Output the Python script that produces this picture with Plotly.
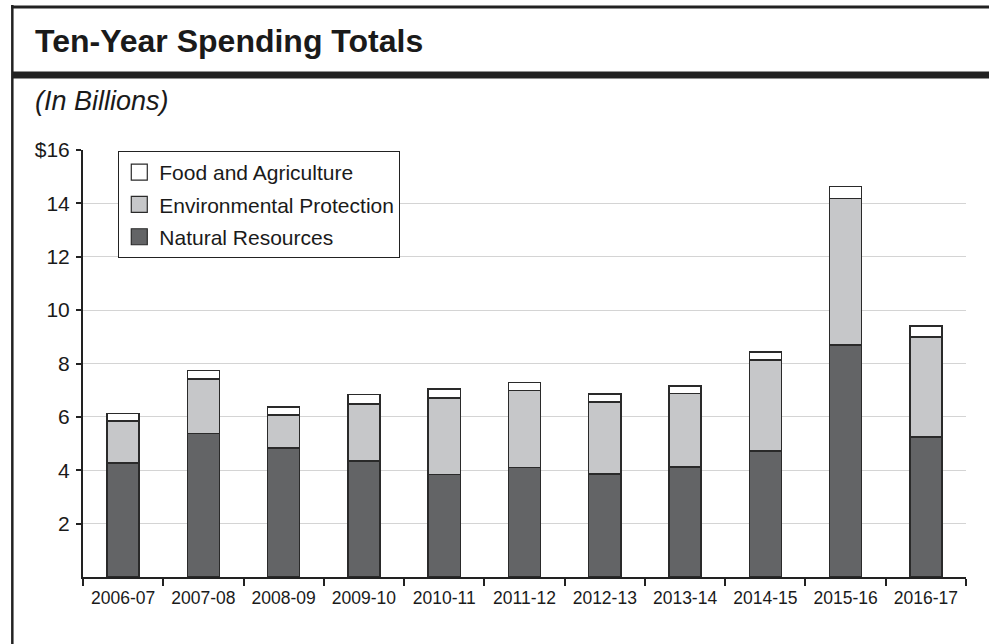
import plotly.graph_objects as go

years = ["2006-07", "2007-08", "2008-09", "2009-10", "2010-11", "2011-12",
         "2012-13", "2013-14", "2014-15", "2015-16", "2016-17"]
natural_resources = [4.28, 5.37, 4.84, 4.34, 3.85, 4.11, 3.86, 4.12, 4.73, 8.69, 5.25]
environmental_protection = [1.56, 2.05, 1.23, 2.15, 2.85, 2.88, 2.69, 2.75, 3.40, 5.49, 3.74]
food_agriculture = [0.28, 0.31, 0.30, 0.34, 0.35, 0.30, 0.30, 0.29, 0.30, 0.45, 0.42]
y_tickvals = [2, 4, 6, 8, 10, 12, 14, 16]
y_ticktext = ["2", "4", "6", "8", "10", "12", "14", "$16"]

W, H = 989, 644
ML, MR, MT, MB = 82.7, 23, 150, 67
PW, PH = W - ML - MR, H - MT - MB

def px_x(p):
    return (p - ML) / PW

def px_y(p):
    return (H - MB - p) / PH

FONT = "Liberation Sans, Arial, Helvetica, sans-serif"
OUTLINE = dict(color="#2a2a2a", width=1.5)
C_NR, C_EP, C_FA = "#636466", "#c6c7c9", "#ffffff"

fig = go.Figure()
fig.add_trace(go.Bar(x=years, y=natural_resources, name="Natural Resources",
                     marker=dict(color=C_NR, line=OUTLINE), width=0.4, showlegend=False))
fig.add_trace(go.Bar(x=years, y=environmental_protection, name="Environmental Protection",
                     marker=dict(color=C_EP, line=OUTLINE), width=0.4, showlegend=False))
fig.add_trace(go.Bar(x=years, y=food_agriculture, name="Food and Agriculture",
                     marker=dict(color=C_FA, line=OUTLINE), width=0.4, showlegend=False))

# legend-only entries with larger square swatches
for i, (nm, col) in enumerate([("Food and Agriculture", C_FA),
                               ("Environmental Protection", C_EP),
                               ("Natural Resources", C_NR)]):
    fig.add_trace(go.Scatter(x=[None], y=[None], mode="markers", name=nm,
                             legendgroup="g%d" % i,
                             marker=dict(symbol="square", size=16, color=col,
                                         line=dict(color="#2a2a2a", width=1.2))))

shapes = [
    dict(type="line", xref="paper", yref="paper", x0=px_x(12), x1=px_x(12),
         y0=px_y(5), y1=px_y(H + 5), line=dict(color="#222", width=2.5)),
    dict(type="line", xref="paper", yref="paper", x0=px_x(10.8), x1=px_x(W + 5),
         y0=px_y(7), y1=px_y(7), line=dict(color="#222", width=3)),
    dict(type="line", xref="paper", yref="paper", x0=px_x(12), x1=px_x(W + 5),
         y0=px_y(75), y1=px_y(75), line=dict(color="#222", width=7)),
]

annotations = [
    dict(text="<b>Ten-Year Spending Totals</b>", xref="paper", yref="paper",
         x=px_x(33), y=px_y(41), xanchor="left", yanchor="middle", showarrow=False,
         font=dict(family=FONT, size=32, color="#1a1a1a")),
    dict(text="<i>(In Billions)</i>", xref="paper", yref="paper",
         x=px_x(33), y=px_y(101), xanchor="left", yanchor="middle", showarrow=False,
         font=dict(family=FONT, size=27, color="#1a1a1a")),
]

fig.update_layout(
    width=W, height=H,
    margin=dict(l=ML, r=MR, t=MT, b=MB, pad=0),
    paper_bgcolor="white", plot_bgcolor="white",
    barmode="stack",
    font=dict(family=FONT, color="#1a1a1a"),
    showlegend=True,
    legend=dict(x=px_x(118), y=px_y(151), xanchor="left", yanchor="top",
                traceorder="grouped", tracegroupgap=2, itemsizing="trace",
                bordercolor="#222", borderwidth=1, bgcolor="white",
                font=dict(size=21, family=FONT, color="#1a1a1a")),
    shapes=shapes,
    annotations=annotations,
    xaxis=dict(type="category", range=[-0.5, 10.5], showline=True, linecolor="#222",
               linewidth=2, ticks="outside", tickson="boundaries", ticklen=7,
               tickwidth=2, tickcolor="#222", showgrid=False, ticklabelstandoff=4,
               tickfont=dict(size=17.5, family=FONT, color="#1a1a1a")),
    yaxis=dict(range=[0, 16], tickvals=y_tickvals, ticktext=y_ticktext,
               showline=True, linecolor="#222", linewidth=2,
               ticks="outside", ticklen=5, tickwidth=2, tickcolor="#222",
               showgrid=True, gridcolor="#d4d4d4", gridwidth=1, zeroline=False,
               ticklabelstandoff=2,
               tickfont=dict(size=21, family=FONT, color="#1a1a1a")),
)

fig.write_html("out.html", config={"displayModeBar": False},
               post_script="document.body.style.margin='0px';")
